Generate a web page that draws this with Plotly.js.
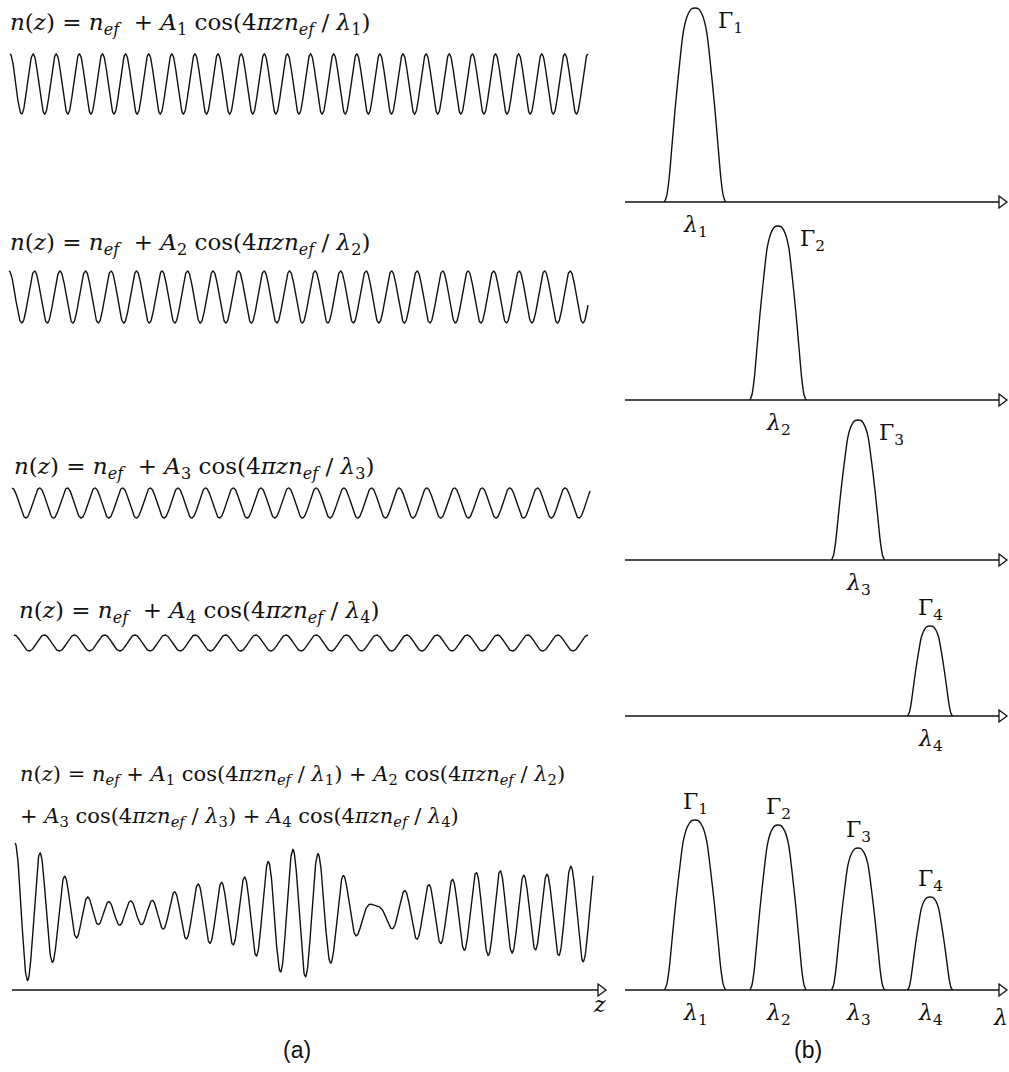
<!DOCTYPE html>
<html><head><meta charset="utf-8">
<script src="https://cdn.plot.ly/plotly-3.0.1.min.js"></script>
<style>html,body{margin:0;padding:0;background:#fff}</style>
</head><body><div id="chart" style="width:1009px;height:1072px"></div>
<script>
// ---- data ----
const gratingIndex = ['1', '2', '3', '4'];
const gratingCycles = [25, 22.7, 20.9, 19];        // cycles of n(z) across the drawn length
const gratingAmplitudes = [30, 26, 15, 8];         // A1..A4
const peakCenters = [70, 153, 233, 305];           // λ1..λ4 on the spectral axis
const peakHalfWidths = [30.5, 28, 26.5, 22.5];
const singlePeakHeights = [194, 174, 140, 90];     // Γ1..Γ4 in panels 1-4
const combinedPeakHeights = [170, 165, 142, 93];   // Γ1..Γ4 in the combined panel
const peakProfileOffsets = [-1, -0.93, -0.85, -0.75, -0.64, -0.5, -0.38, -0.25, -0.12, 0, 0.12, 0.25, 0.38, 0.5, 0.64, 0.75, 0.85, 0.93, 1];
const peakProfileValues  = [0, 0.03, 0.12, 0.3, 0.5, 0.72, 0.88, 0.96, 0.995, 1, 0.995, 0.96, 0.88, 0.72, 0.5, 0.3, 0.12, 0.03, 0];

// ---- layout geometry (pixels) ----
const W = 1009, H = 1072;
const rowCenters = [84, 297, 503, 643];
const sumCenter = 913, sumScale = 0.886;
const waveX0 = [10, 9, 12, 14], waveX1 = [588, 588, 590, 588];
const sumX0 = 15, sumX1 = 593;
const specAxisY = [202, 400, 560, 716, 990];
const specX0 = 625;
const serif = 'DejaVu Serif, Liberation Serif, serif';
const ink = '#111';

const traces = [];
const layout = {
  width: W, height: H, margin: {l: 0, r: 0, t: 0, b: 0},
  paper_bgcolor: '#fff', plot_bgcolor: 'rgba(0,0,0,0)',
  showlegend: false, shapes: [], annotations: []
};
function ax(n) { return n === 1 ? '' : String(n); }
function setAxes(n, xr, yr) {
  const common = {domain: [0, 1], visible: false, fixedrange: true, showgrid: false, zeroline: false};
  layout['xaxis' + ax(n)] = Object.assign({}, common, {range: xr, anchor: 'y' + ax(n)});
  layout['yaxis' + ax(n)] = Object.assign({}, common, {range: yr, anchor: 'x' + ax(n)});
  if (n > 1) { layout['xaxis' + ax(n)].overlaying = 'x'; layout['yaxis' + ax(n)].overlaying = 'y'; }
}
function xRangeFor(x0, x1) { const L = x1 - x0; return [-x0 / L, (W - x0) / L]; }
function yRangeFor(yc, s) { return [(yc - H) / s, yc / s]; }

// ---- left column: individual gratings ----
const N = 1400;
const zs = [];
for (let j = 0; j <= N; j++) zs.push(j / N);
const sumN = zs.map(() => 0);
gratingCycles.forEach((k, i) => {
  const n = zs.map(z => gratingAmplitudes[i] * Math.cos(2 * Math.PI * k * z));
  n.forEach((v, j) => sumN[j] += v);
  const id = i + 1;
  setAxes(id, xRangeFor(waveX0[i], waveX1[i]), yRangeFor(rowCenters[i], 1));
  traces.push({x: zs, y: n, type: 'scatter', mode: 'lines', line: {color: ink, width: 1.4},
    xaxis: 'x' + ax(id), yaxis: 'y' + ax(id), hoverinfo: 'skip'});
});
setAxes(5, xRangeFor(sumX0, sumX1), yRangeFor(sumCenter, sumScale));
traces.push({x: zs, y: sumN, type: 'scatter', mode: 'lines', line: {color: ink, width: 1.4},
  xaxis: 'x5', yaxis: 'y5', hoverinfo: 'skip'});

// ---- right column: reflection spectra ----
function peakTrace(id, i, h) {
  return {x: peakProfileOffsets.map(o => peakCenters[i] + o * peakHalfWidths[i]),
    y: peakProfileValues.map(v => v * h), type: 'scatter', mode: 'lines',
    line: {color: ink, width: 1.4, shape: 'spline', smoothing: 0.8},
    xaxis: 'x' + ax(id), yaxis: 'y' + ax(id), hoverinfo: 'skip'};
}
for (let p = 0; p < 5; p++) {
  const id = 6 + p;
  setAxes(id, [-specX0, W - specX0], yRangeFor(specAxisY[p], 1));
  if (p < 4) traces.push(peakTrace(id, p, singlePeakHeights[p]));
  else combinedPeakHeights.forEach((h, i) => traces.push(peakTrace(id, i, h)));
}

// ---- axis lines with hollow arrowheads ----
const px = x => x / W, py = y => 1 - y / H;
function arrowAxis(x0, x1, y) {
  layout.shapes.push({type: 'line', xref: 'paper', yref: 'paper', x0: px(x0), x1: px(x1 - 2), y0: py(y), y1: py(y),
    line: {color: ink, width: 1.5}});
  layout.shapes.push({type: 'path', xref: 'paper', yref: 'paper',
    path: `M ${px(x1 - 8)} ${py(y - 6)} L ${px(x1)} ${py(y)} L ${px(x1 - 8)} ${py(y + 6)} Z`,
    line: {color: ink, width: 1.3}, fillcolor: '#fff'});
}
specAxisY.forEach(y => arrowAxis(specX0, 1007, y));
arrowAxis(12, 606, 990);

// ---- text ----
function note(text, x, y, size, opts) {
  layout.annotations.push(Object.assign({text: text, x: px(x), y: py(y), xref: 'paper', yref: 'paper',
    showarrow: false, xanchor: 'left', yanchor: 'middle', font: {family: serif, size: size, color: ink}}, opts || {}));
}
const nef = '<i>n</i><sub><i>ef</i></sub>';
function term(i) { return `<i>A</i><sub>${i}</sub> cos(4<i>πzn</i><sub><i>ef</i></sub> / <i>λ</i><sub>${i}</sub>)`; }
const formulaPos = [[8, 24], [8, 244], [12, 468], [17, 612]];
gratingIndex.forEach((g, i) => {
  note(`<i>n</i>(<i>z</i>) = ${nef}\u00a0\u00a0+ ${term(g)}`, formulaPos[i][0], formulaPos[i][1], 23);
});
note(`<i>n</i>(<i>z</i>) = ${nef} + ${term(gratingIndex[0])} + ${term(gratingIndex[1])}`, 18, 775, 21);
note(`+ ${term(gratingIndex[2])} + ${term(gratingIndex[3])}`, 18, 817, 21);

// Γ and λ labels tied to the spectral axes
const gammaSide = [true, true, true, false];
for (let p = 0; p < 5; p++) {
  const id = 6 + p;
  const idxs = p < 4 ? [p] : [0, 1, 2, 3];
  idxs.forEach(i => {
    const h = p < 4 ? singlePeakHeights[i] : combinedPeakHeights[i];
    const side = p < 4 && gammaSide[i];
    layout.annotations.push({text: `Γ<sub>${gratingIndex[i]}</sub>`, xref: 'x' + ax(id), yref: 'y' + ax(id),
      x: side ? peakCenters[i] + peakHalfWidths[i] * 0.7 : peakCenters[i], y: h,
      xanchor: side ? 'left' : 'center', yanchor: side ? 'top' : 'bottom', yshift: side ? 2 : 0,
      showarrow: false, font: {family: serif, size: 22, color: ink}});
    layout.annotations.push({text: `<i>λ</i><sub>${gratingIndex[i]}</sub>`, xref: 'x' + ax(id), yref: 'y' + ax(id),
      x: peakCenters[i], y: 0, xanchor: 'center', yanchor: 'top', yshift: -8,
      showarrow: false, font: {family: serif, size: 22, color: ink}});
  });
}
note('<i>λ</i>', 991, 1017, 22);
note('<i>z</i>', 591, 1004, 22);
note('(a)', 297, 1050, 23, {xanchor: 'center', font: {family: 'Liberation Sans, Arial, sans-serif', size: 23, color: ink}});
note('(b)', 808, 1050, 23, {xanchor: 'center', font: {family: 'Liberation Sans, Arial, sans-serif', size: 23, color: ink}});

Plotly.newPlot('chart', traces, layout, {staticPlot: true, displayModeBar: false});
</script></body></html>
